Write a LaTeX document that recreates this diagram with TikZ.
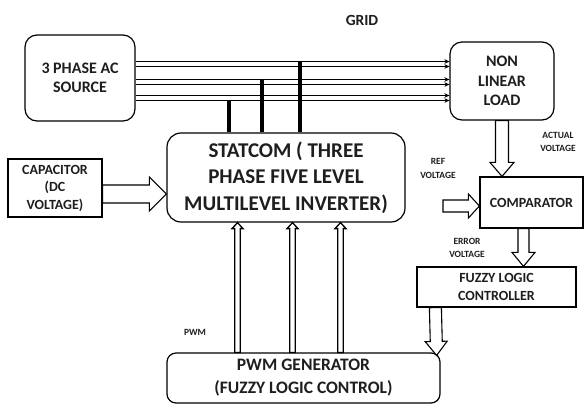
\documentclass[tikz,border=0pt]{standalone}
\usepackage{fontspec}
\setmainfont{Carlito}
\usetikzlibrary{calc,arrows.meta}

\definecolor{ink}{HTML}{1E1E1E}

% hollow block arrow: #2 start, #3 tip, #4 shaft half width, #5 head half width, #6 head length
\newcommand{\hollowarrow}[6][]{%
  \coordinate (ha) at (#2);
  \coordinate (hb) at (#3);
  \coordinate (hh) at ($(hb)!#6!(ha)$);
  \draw[hollow,#1] ($(ha)!#4!90:(hb)$) -- ($(hh)!#4!90:(hb)$) -- ($(hh)!#5!90:(hb)$)
    -- (hb) -- ($(hh)!#5!-90:(hb)$) -- ($(hh)!#4!-90:(hb)$) -- ($(ha)!#4!-90:(hb)$) -- cycle;
}

\tikzset{
  box/.style={draw=black, line width=1.2pt, inner sep=0pt, align=center, text=ink},
  rbox/.style={box, rounded corners=12pt},
  sbox/.style={box},
  hollow/.style={draw=black, line width=1.1pt, fill=white, line join=miter},
  thinhollow/.style={line width=1.3pt},
  busline/.style={draw=black, line width=1.2pt, -{Stealth[length=5pt,width=4.5pt]}},
  bar/.style={draw=black, line width=3.5pt},
  lbl/.style={text=ink, align=center, inner sep=0pt},
  fbig/.style={font={\fontsize{16}{19.5}\selectfont\bfseries}},
  fhuge/.style={font={\fontsize{21}{26.5}\selectfont\bfseries}},
  fmid/.style={font={\fontsize{14}{17.5}\selectfont\bfseries}},
  fpwm/.style={font={\fontsize{17.5}{23}\selectfont\bfseries}},
  fsmall/.style={font={\fontsize{9.5}{13.5}\selectfont\bfseries}},
}

\begin{document}
\begin{tikzpicture}[x=1pt, y=-1pt]
  \useasboundingbox[fill=white] (0,0) rectangle (585,407);

  % blocks
  \node[rbox, fbig, minimum width=110pt, minimum height=86pt] (src) at (80,78) {3 PHASE AC\\SOURCE};
  \node[rbox, fbig, minimum width=104pt, minimum height=78pt] (load) at (502,81) {NON\\LINEAR\\LOAD};
  \node[rbox, fhuge, rounded corners=14pt, minimum width=238pt, minimum height=89pt] (stat) at (286,177.5)
    {STATCOM ( THREE\\PHASE FIVE LEVEL\\MULTILEVEL INVERTER)};
  \node[sbox, fmid, minimum width=94pt, minimum height=58pt] (cap) at (55,188) {CAPACITOR\\(DC\\VOLTAGE)};
  \node[sbox, fmid, minimum width=103pt, minimum height=51pt] (comp) at (531.5,202.5) {COMPARATOR};
  \node[sbox, fmid, minimum width=159pt, minimum height=40pt] (flc) at (496.5,287) {FUZZY LOGIC\\CONTROLLER};
  \node[rbox, fpwm, rounded corners=9pt, minimum width=273pt, minimum height=50pt] (pwm) at (303.5,378)
    {PWM GENERATOR\\(FUZZY LOGIC CONTROL)};

  % labels
  \node[lbl, font={\fontsize{15.5}{18}\selectfont\bfseries}] (grid) at (362,20) {GRID};
  \node[lbl, fsmall] (actual) at (558,142) {ACTUAL\\VOLTAGE};
  \node[lbl, fsmall] (refv) at (438,168.5) {REF\\VOLTAGE};
  \node[lbl, fsmall] (errv) at (467,248) {ERROR\\VOLTAGE};
  \node[lbl, fsmall] (pwmlbl) at (195,332) {PWM};

  % three-phase bus (three double conductors)
  \foreach \y in {61.5,66.5,79.5,84.5,95.5,100.5}{
    \draw[busline] (src.east |- 0,\y) -- (load.west |- 0,\y);
  }

  % taps from the bus into the STATCOM
  \coordinate (tapa) at (229,100.5);
  \coordinate (tapb) at (262,79.5);
  \coordinate (tapc) at (300,61.5);
  \draw[bar] (tapa) -- (tapa |- stat.north);
  \draw[bar] (tapb) -- (tapb |- stat.north);
  \draw[bar] (tapc) -- (tapc |- stat.north);

  % block arrows
  \hollowarrow{$(cap.east)+(0,6)$}{$(stat.west |- cap.east)+(0,6)$}{9pt}{17pt}{17pt}
  \hollowarrow{load.south}{load.south |- comp.north}{6.5pt}{12pt}{14pt}
  \coordinate (refin) at (443,206);
  \hollowarrow{refin}{comp.west |- refin}{6pt}{12pt}{11pt}
  \hollowarrow{$(comp.south)+(-8,0)$}{$(comp.south |- flc.north)+(-8,0)$}{5.5pt}{11.5pt}{14pt}
  \hollowarrow{$(flc.south west)+(19,0)$}{$(pwm.north east)+(-4,3)$}{6pt}{11pt}{14pt}

  % gate signals from the PWM generator
  \foreach \x in {237.5,292.5,340.5}{
    \hollowarrow[thinhollow]{pwm.north -| \x,0}{stat.south -| \x,0}{2.8pt}{5.5pt}{6pt}
  }
\end{tikzpicture}
\end{document}
